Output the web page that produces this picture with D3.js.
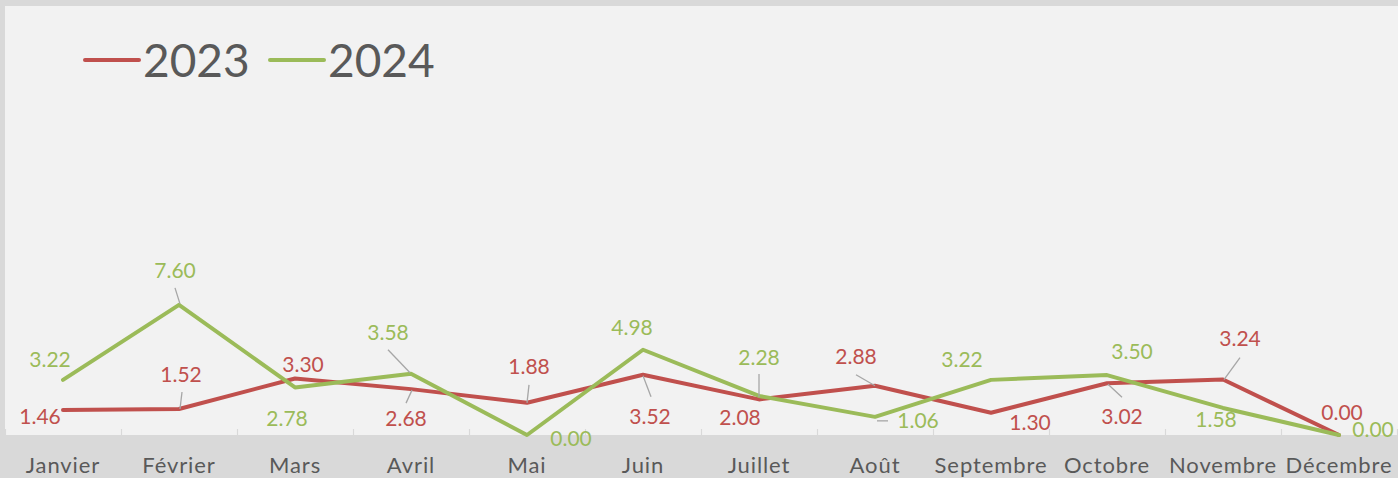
<!DOCTYPE html>
<html><head><meta charset="utf-8">
<script src="https://cdn.jsdelivr.net/npm/d3@7"></script>
<style>
html,body{margin:0;padding:0;background:#d9d9d9;}
svg{display:block;}
text{font-family:Lato,"Open Sans",sans-serif;}
</style></head>
<body>
<svg id="c" width="1398" height="478"></svg>
<script>
const months = ["Janvier","Février","Mars","Avril","Mai","Juin","Juillet","Août","Septembre","Octobre","Novembre","Décembre"];
const seriesNames = ["2023","2024"];
const values2023 = [1.46,1.52,3.30,2.68,1.88,3.52,2.08,2.88,1.30,3.02,3.24,0.00];
const values2024 = [3.22,7.60,2.78,3.58,0.00,4.98,2.28,1.06,3.22,3.50,1.58,0.00];
const colors = ["#c0504d","#9bbb59"];

// label layout (offsets in px from the point): [dx, dy]
const labelOff2023 = [[-23,6],[2,-35],[8,-14],[-5,29],[2,-36],[7,42],[-19,18],[-19,-29],[39,10],[15,33],[17,-41],[3,-23]];
const labelOff2024 = [[-13,-20],[-4,-34],[-8,31],[-23,-41],[44,3],[-11,-22],[0,-39],[43,4],[-29,-20],[25,-24],[-7,11],[34,-6]];
// leader lines: [x1,y1,x2,y2] offsets from the point, null = none
const leader2023 = [null,[3,-17,1,0],null,[1,1,-5,14],[2,-18,0,0],[0,1,8,22],null,[-19,-11,0,0],null,[1,1,15,14],[17,-22,1,0],null];
const leader2024 = [null,[-4,-17,1,-1],null,[-23,-24,-1,-1],null,null,[0,-22,0,1],[2,4,13,4],null,null,null,null];

const svg = d3.select("#c");
const W = 1398, H = 478;
svg.append("rect").attr("width",W).attr("height",H).attr("fill","#d9d9d9");
svg.append("rect").attr("x",5).attr("y",6).attr("width",W-5).attr("height",429).attr("fill","#f2f2f2");

const x = d3.scaleBand().domain(months).range([5,1397]).padding(0);
const cx = m => x(m) + x.bandwidth()/2;
const y = d3.scaleLinear().domain([0,25]).range([435,7]);

// category ticks
const tickXs = months.map(m => x(m)).concat([x(months[months.length-1]) + x.bandwidth()]);
svg.append("g").selectAll("line").data(tickXs).join("line")
  .attr("x1",d=>d+0.5).attr("x2",d=>d+0.5).attr("y1",429).attr("y2",435)
  .attr("stroke","#d9d9d9").attr("stroke-width",1.2);

// x axis labels
const ax = svg.append("g").attr("transform","translate(0,435)")
  .call(d3.axisBottom(x).tickSize(0).tickPadding(22));
ax.select(".domain").remove();
ax.selectAll("text").attr("font-family","Lato").attr("font-size",22)
  .attr("fill","#595959").style("letter-spacing","0.9px");

const series = [
  {name:seriesNames[0], vals:values2023, color:colors[0], off:labelOff2023, lead:leader2023},
  {name:seriesNames[1], vals:values2024, color:colors[1], off:labelOff2024, lead:leader2024}
];

const line = d3.line().x((d,i)=>cx(months[i])).y(d=>y(d));
series.forEach(s=>{
  svg.append("path").datum(s.vals).attr("d",line)
    .attr("fill","none").attr("stroke",s.color).attr("stroke-width",4)
    .attr("stroke-linejoin","round").attr("stroke-linecap","round");
});

series.forEach(s=>{
  const g = svg.append("g");
  s.vals.forEach((v,i)=>{
    const px = cx(months[i]), py = y(v);
    const L = s.lead[i];
    if(L){
      g.append("line").attr("x1",px+L[0]).attr("y1",py+L[1]).attr("x2",px+L[2]).attr("y2",py+L[3])
        .attr("stroke","#a6a6a6").attr("stroke-width",1.3);
    }
    g.append("text").attr("x",px+s.off[i][0]).attr("y",py+s.off[i][1]).attr("dy","0.36em")
      .attr("text-anchor","middle").attr("font-size",21).attr("fill",s.color)
      .text(d3.format(".2f")(v));
  });
});

// legend
const legX = [85,270];
series.forEach((s,i)=>{
  svg.append("line").attr("x1",legX[i]).attr("x2",legX[i]+54).attr("y1",60).attr("y2",60)
    .attr("stroke",s.color).attr("stroke-width",4).attr("stroke-linecap","round");
  svg.append("text").attr("x",legX[i]+58).attr("y",77).attr("font-size",46)
    .attr("fill","#595959").text(s.name);
});
</script>
</body></html>
